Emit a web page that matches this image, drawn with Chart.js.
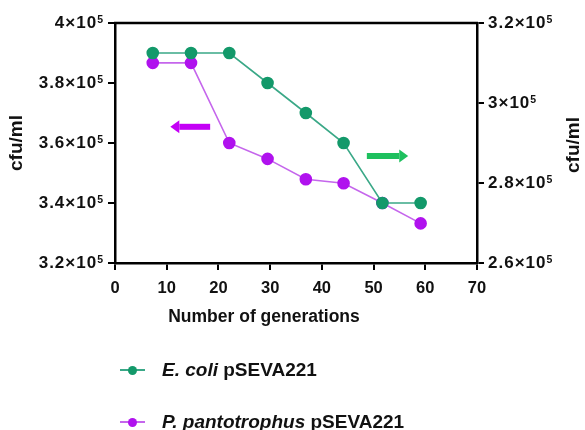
<!DOCTYPE html>
<html>
<head>
<meta charset="utf-8">
<script src="https://cdn.jsdelivr.net/npm/chart.js@4.4.0/dist/chart.umd.min.js"></script>
<style>
  html, body { margin: 0; padding: 0; background: #fff; }
  #wrap { position: relative; width: 585px; height: 430px; }
  #legend { position: absolute; left: 0; top: 0; font-family: "Liberation Sans", Arial, sans-serif; font-size: 19px; font-weight: bold; color: #111; }
  .item { position: absolute; left: 120px; height: 24px; white-space: nowrap; }
  .mk { position: absolute; left: 0; top: 11px; width: 25px; height: 2px; }
  .dot { position: absolute; left: 8px; top: -3.5px; width: 9px; height: 9px; border-radius: 50%; }
  .txt { position: absolute; left: 42px; top: 0; line-height: 24px; }
</style>
</head>
<body>
<div id="wrap">
  <canvas id="grafico" width="585" height="430"></canvas>
  <div id="legend"></div>
</div>
<script>
// datos
const generaciones = [7.3, 14.7, 22.1, 29.5, 36.9, 44.2, 51.7, 59.1];
const ecoli = [312500, 312500, 312500, 305000, 297500, 290000, 275000, 275000];
const pantotrophus = [386700, 386700, 360000, 354700, 347900, 346600, 340000, 333200];
const ticksX = [0, 10, 20, 30, 40, 50, 60, 70];
const ticksIzq = [320000, 340000, 360000, 380000, 400000];
const ticksDer = [260000, 280000, 300000, 320000];
const nombres = ['E. coli', 'P. pantotrophus'];
const plasmido = 'pSEVA221';

const fuente = '"Liberation Sans", Arial, sans-serif';
const verde = '#3aa887', verdePunto = '#13996a';
const morado = '#c566ec', moradoPunto = '#b012ee';

// flechas que indican el eje de cada serie
const flechas = [
  { eje: 'y', desde: 18.4, hasta: 10.7, valor: 365400, color: '#c400f6' },
  { eje: 'y1', desde: 48.7, hasta: 56.7, valor: 286750, color: '#1ec05e' }
];

function mantisa(v) {
  return String(Math.round(v / 1e4) / 10);
}

function puntos(ys) {
  return generaciones.map(function (g, i) { return { x: g, y: ys[i] }; });
}

// etiquetas tipo 3.8x10^5 con exponente elevado
function dibujarTicks(chart, id, izquierda) {
  const s = chart.scales[id], ctx = chart.ctx;
  s.ticks.forEach(function (t) {
    const y = s.getPixelForValue(t.value);
    const base = mantisa(t.value) + '×10';
    ctx.font = 'bold 17px ' + fuente;
    ctx.letterSpacing = '1px';
    const wb = ctx.measureText(base).width;
    ctx.font = 'bold 10.5px ' + fuente;
    ctx.letterSpacing = '0px';
    const ws = ctx.measureText('5').width;
    const x0 = izquierda ? s.right - 12 - ws - wb : s.left + 11;
    ctx.fillStyle = '#111';
    ctx.textAlign = 'left';
    ctx.font = 'bold 17px ' + fuente;
    ctx.letterSpacing = '1px';
    ctx.textBaseline = 'middle';
    ctx.fillText(base, x0, y);
    ctx.font = 'bold 10.5px ' + fuente;
    ctx.letterSpacing = '0px';
    ctx.textBaseline = 'alphabetic';
    ctx.fillText('5', x0 + wb, y - 0.5);
  });
}

const marco = {
  id: 'marco',
  afterDraw(chart) {
    const ctx = chart.ctx, a = chart.chartArea;
    ctx.save();
    // linea superior
    ctx.strokeStyle = '#000';
    ctx.lineWidth = 2.5;
    ctx.beginPath();
    ctx.moveTo(a.left - 1, a.top);
    ctx.lineTo(a.right + 1, a.top);
    ctx.stroke();

    // flechas
    flechas.forEach(function (f) {
      const x0 = chart.scales.x.getPixelForValue(f.desde);
      const x1 = chart.scales.x.getPixelForValue(f.hasta);
      const y = chart.scales[f.eje].getPixelForValue(f.valor);
      const dir = Math.sign(x1 - x0);
      const cabeza = 9;
      ctx.fillStyle = f.color;
      ctx.fillRect(Math.min(x0, x1 - dir * cabeza), y - 3, Math.abs(x1 - dir * cabeza - x0), 6);
      ctx.beginPath();
      ctx.moveTo(x1, y);
      ctx.lineTo(x1 - dir * cabeza, y - 6.5);
      ctx.lineTo(x1 - dir * cabeza, y + 6.5);
      ctx.closePath();
      ctx.fill();
    });

    dibujarTicks(chart, 'y', true);
    dibujarTicks(chart, 'y1', false);

    // titulos
    ctx.fillStyle = '#111';
    ctx.textAlign = 'center';
    ctx.textBaseline = 'middle';
    ctx.font = 'bold 17.5px ' + fuente;
    ctx.fillText('Number of generations', 264, 317);

    ctx.font = 'bold 19px ' + fuente;
    ctx.save();
    ctx.translate(17, (a.top + a.bottom) / 2);
    ctx.rotate(-Math.PI / 2);
    ctx.fillText('cfu/ml', 0, 0);
    ctx.restore();

    ctx.translate(574, (a.top + a.bottom) / 2 + 2);
    ctx.rotate(-Math.PI / 2);
    ctx.fillText('cfu/ml', 0, 0);
    ctx.restore();
  }
};

function ejeBase(extra) {
  return Object.assign({
    grid: { display: true, drawOnChartArea: false, drawTicks: true, tickLength: 7, color: '#000', lineWidth: 2 },
    border: { display: true, color: '#000', width: 2.5 },
    ticks: { display: false }
  }, extra);
}

const ctx = document.getElementById('grafico').getContext('2d');
const grafico = new Chart(ctx, {
  type: 'line',
  data: {
    datasets: [{
      label: nombres[0] + ' ' + plasmido,
      data: puntos(ecoli),
      yAxisID: 'y1',
      borderColor: verde,
      backgroundColor: verdePunto,
      pointBackgroundColor: verdePunto,
      pointBorderColor: verdePunto,
      pointRadius: 5.5,
      borderWidth: 1.6,
      tension: 0
    }, {
      label: nombres[1] + ' ' + plasmido,
      data: puntos(pantotrophus),
      yAxisID: 'y',
      borderColor: morado,
      backgroundColor: moradoPunto,
      pointBackgroundColor: moradoPunto,
      pointBorderColor: moradoPunto,
      pointRadius: 5.5,
      borderWidth: 1.6,
      tension: 0
    }]
  },
  options: {
    responsive: false,
    animation: false,
    layout: { padding: { top: 23, bottom: 102, left: 0, right: 0 } },
    plugins: { legend: { display: false }, tooltip: { enabled: false } },
    scales: {
      x: ejeBase({
        type: 'linear', position: 'bottom', min: 0, max: 70,
        afterBuildTicks: function (s) { s.ticks = ticksX.map(function (v) { return { value: v }; }); },
        afterFit: function (s) { s.height = 65; },
        ticks: { display: true, color: '#111', font: { family: fuente, size: 16.5, weight: 'bold' }, padding: 9, maxRotation: 0 }
      }),
      y: ejeBase({
        type: 'linear', position: 'left', min: 320000, max: 400000,
        afterBuildTicks: function (s) { s.ticks = ticksIzq.map(function (v) { return { value: v }; }); },
        afterFit: function (s) { s.width = 115; }
      }),
      y1: ejeBase({
        type: 'linear', position: 'right', min: 260000, max: 320000,
        afterBuildTicks: function (s) { s.ticks = ticksDer.map(function (v) { return { value: v }; }); },
        afterFit: function (s) { s.width = 108; }
      })
    }
  },
  plugins: [marco]
});

// leyenda con nombres en cursiva
const colores = [[verde, verdePunto], [morado, moradoPunto]];
const leyenda = document.getElementById('legend');
nombres.forEach(function (n, i) {
  const item = document.createElement('div');
  item.className = 'item';
  item.style.top = (358 + i * 52) + 'px';
  item.innerHTML = '<div class="mk" style="background:' + colores[i][0] + '"><div class="dot" style="background:' + colores[i][1] + '"></div></div>' +
    '<span class="txt"><i>' + n + '</i> ' + plasmido + '</span>';
  leyenda.appendChild(item);
});
</script>
</body>
</html>
